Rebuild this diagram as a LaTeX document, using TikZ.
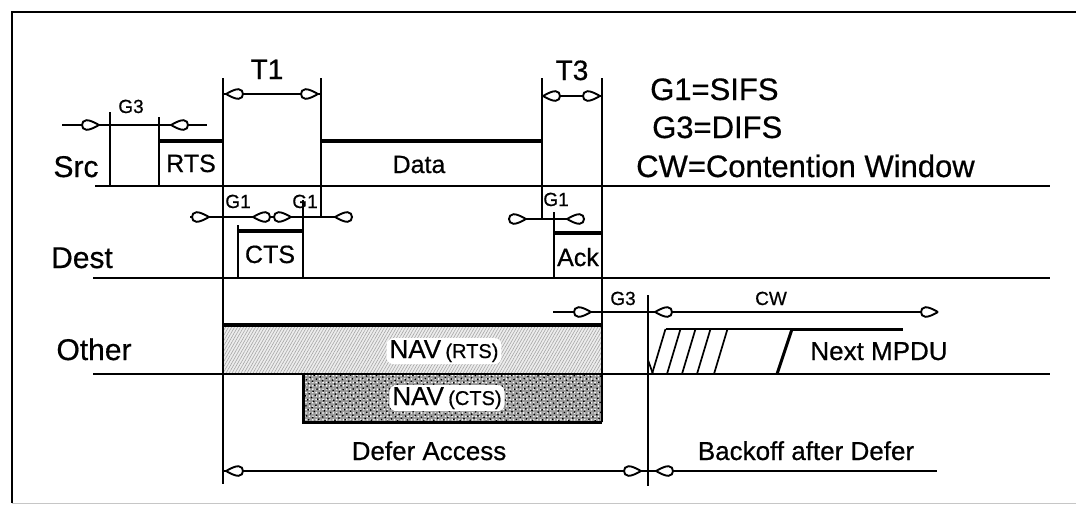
\documentclass[tikz,border=0pt]{standalone}
\usepackage{fontspec}
\setmainfont{Liberation Sans}[FakeBold=0.6]
\usetikzlibrary{patterns.meta}
\begin{document}
\begin{tikzpicture}[x=1pt,y=-1pt,
  tl/.style={line width=2.2pt},
  thinl/.style={line width=1.7pt},
  boxtop/.style={line width=3.6pt},
  big/.style={font=\fontsize{30}{34}\selectfont, inner sep=0pt, anchor=base},
  mid/.style={font=\fontsize{25}{30}\selectfont, inner sep=0pt, anchor=base},
  txt/.style={font=\fontsize{26}{30}\selectfont, inner sep=0pt, anchor=base},
  small/.style={font=\fontsize{19}{22}\selectfont, inner sep=0pt, anchor=base},
  leg/.style={font=\fontsize{31}{36}\selectfont, inner sep=0pt, anchor=base west},
  navlbl/.style={font=\fontsize{26}{30}\selectfont, fill=white, rounded corners=7pt, inner xsep=3pt, inner ysep=2pt, anchor=base},
  pics/tkite/.style={code={\draw[fill=white, line width=1.9pt] (0,0) .. controls (-5,2.8) and (-9,4.8) .. (-12.5,4.8) .. controls (-15.5,4.8) and (-17,2.4) .. (-17,0) .. controls (-17,-2.4) and (-15.5,-4.8) .. (-12.5,-4.8) .. controls (-9,-4.8) and (-5,-2.8) .. (0,0);}},
]
\useasboundingbox (0,0) rectangle (1076,515);
% frame
\draw[line width=2pt] (12,503) -- (12,12) -- (1076,12);
\draw[line width=0.8pt, gray!45] (12,503) -- (1076,503);

% key coordinates
\coordinate (g3a) at (110,186);
\coordinate (rtsL) at (159,186);
\coordinate (t1R) at (321,186);
\coordinate (t3L) at (542,186);
\coordinate (ctsL) at (238,278);
\coordinate (ctsR) at (303,278);
\coordinate (ackL) at (554,278);

% NAV boxes
\fill[gray!14] (223,325) rectangle (602,374);
\fill[pattern={Lines[angle=60,distance=2.6pt,line width=0.6pt]}, pattern color=gray!70] (223,325) rectangle (602,374);
\fill[gray!80] (303,374) rectangle (602,422);
\fill[pattern={Dots[distance=3.4pt,radius=0.9pt]}, pattern color=white] (303,374) rectangle (602,422);
\fill[pattern={Dots[distance=4.5pt,radius=1pt,angle=30]}, pattern color=black] (303,374) rectangle (602,422);
\draw[boxtop] (223,325) -- (602,325);
\draw[line width=3pt] (303,374) -- (303,422) -- (602,422);

% timelines
\draw[tl] (95,186) -- (1050,186);
\draw[tl] (93,278) -- (1050,278);
\draw[tl] (93,374) -- (1050,374);

% verticals
\draw[thinl] (110,112) -- (g3a);
\draw[tl] (159,117) -- (rtsL);
\draw[tl] (223,78) -- (223,484);
\draw[tl] (321,78) -- (t1R);
\draw[tl] (321,186) -- (321,217);
\draw[tl] (238,225) -- (ctsL);
\draw[tl] (303,200) -- (ctsR);
\draw[tl] (542,78) -- (t3L);
\draw[tl] (542,186) -- (542,220);
\draw[tl] (554,212) -- (ackL);
\draw[tl] (602,78) -- (602,422);
\draw[thinl] (648,295) -- (648,486);

% box tops
\draw[boxtop] (159,141) -- (223,141);
\draw[boxtop] (321,141) -- (542,141);
\draw[boxtop] (238,231) -- (303,231);
\draw[boxtop] (554,233) -- (602,233);

% dimension lines
\draw[thinl] (62,125) -- (207,125);
\pic at (99,125) {tkite};
\pic[rotate=180] at (171,125) {tkite};

\draw[thinl] (223,94) -- (321,94);
\pic[rotate=180] at (226,94) {tkite};
\pic at (318,94) {tkite};

\draw[thinl] (542,96) -- (602,96);
\pic[rotate=180] at (543,96) {tkite};
\pic at (600,96) {tkite};

\draw[thinl] (190,217) -- (352,217);
\pic at (209,217) {tkite};
\pic[rotate=180] at (253,217) {tkite};
\pic at (291,217) {tkite};
\pic[rotate=180] at (335,217) {tkite};

\draw[thinl] (508,219) -- (580,219);
\pic at (526,219) {tkite};
\pic[rotate=180] at (567,219) {tkite};

\draw[thinl] (553,312) -- (930,312);
\pic at (591,312) {tkite};
\pic[rotate=180] at (655,312) {tkite};
\pic at (938,312) {tkite};

\draw[thinl] (223,471) -- (937,471);
\pic[rotate=180] at (226,471) {tkite};
\pic at (641,471) {tkite};
\pic[rotate=180] at (656,471) {tkite};

% Next MPDU slashes
\foreach \b in {652,667,682,697,714}{
  \draw[thinl] (\b,374) -- (\b+13.5,329);
}
\draw[thinl] (648,360) -- (653,374);
\draw[thinl] (665.5,329) -- (792,329);
\draw[line width=3pt] (777,374) -- (792,329);
\draw[line width=3pt] (792,329) -- (903,329);

% labels
\node[big] (src) at (76,177) {Src};
\node[big] (dest) at (82,268) {Dest};
\node[big] (other) at (94,360) {Other};
\node[mid] (rts) at (191,172) {RTS};
\node[mid] (cts) at (270,263) {CTS};
\node[mid] (data) at (419,173) {Data};
\node[mid] (ack) at (578,266) {Ack};
\node[font=\fontsize{28}{32}\selectfont, inner sep=0pt, anchor=base] (t1) at (267,79) {T1};
\node[font=\fontsize{28}{32}\selectfont, inner sep=0pt, anchor=base] (t3) at (572,80) {T3};
\node[small] (g3top) at (131,113) {G3};
\node[small] (g1a) at (238,208) {G1};
\node[small] (g1b) at (305,208) {G1};
\node[small] (g1c) at (556,206) {G1};
\node[small] (g3low) at (623,305) {G3};
\node[small] (cw) at (771,305) {CW};
\node[leg] (leg1) at (650,100) {G1=SIFS};
\node[leg] (leg2) at (652,138) {G3=DIFS};
\node[leg] (leg3) at (636,177) {CW=Contention Window};
\node[navlbl] (navr) at (444,358) {NAV\,{\fontsize{20}{22}\selectfont(RTS)}};
\node[navlbl] (navc) at (447,405) {NAV\,{\fontsize{20}{22}\selectfont(CTS)}};
\node[txt] (defer) at (429,460) {Defer Access};
\node[txt] (backoff) at (806,460) {Backoff after Defer};
\node[txt] (mpdu) at (879,360) {Next MPDU};
\end{tikzpicture}
\end{document}
